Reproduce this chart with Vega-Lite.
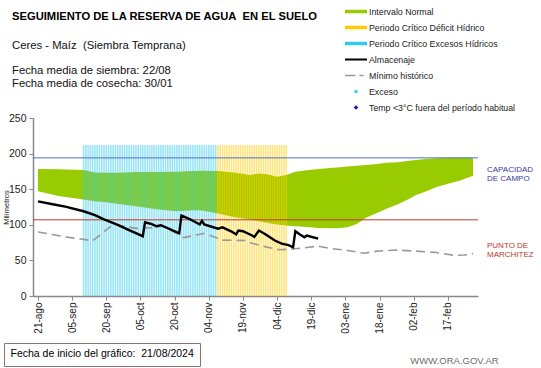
{
  "$schema": "https://vega.github.io/schema/vega-lite/v6.json",
  "autosize": "none",
  "width": 445,
  "height": 178,
  "padding": {"left": 33, "top": 118, "right": 63, "bottom": 72},
  "background": "white",
  "title": {
    "text": "SEGUIMIENTO DE LA RESERVA DE AGUA\u00a0 EN EL SUELO",
    "subtitle": ["Ceres - Maíz\u00a0 (Siembra Temprana)", "\u200b", "Fecha media de siembra: 22/08", "Fecha media de cosecha: 30/01"],
    "anchor": "start",
    "frame": "group",
    "dx": -21,
    "dy": 82,
    "offset": 0,
    "font": "Liberation Sans",
    "fontSize": 11.2,
    "fontWeight": "bold",
    "color": "#000000",
    "subtitleFont": "Liberation Sans",
    "subtitleFontSize": 11.3,
    "subtitleColor": "#111111",
    "subtitleLineHeight": 12.5,
    "subtitlePadding": 18
  },
  "config": {
    "view": {"stroke": null},
    "locale": {
      "time": {
        "dateTime": "%A, %e de %B de %Y, %X",
        "date": "%d/%m/%Y",
        "time": "%H:%M:%S",
        "periods": ["AM", "PM"],
        "days": ["domingo", "lunes", "martes", "miércoles", "jueves", "viernes", "sábado"],
        "shortDays": ["dom", "lun", "mar", "mié", "jue", "vie", "sáb"],
        "months": ["enero", "febrero", "marzo", "abril", "mayo", "junio", "julio", "agosto", "septiembre", "octubre", "noviembre", "diciembre"],
        "shortMonths": ["ene", "feb", "mar", "abr", "may", "jun", "jul", "ago", "sep", "oct", "nov", "dic"]
      }
    }
  },
  "datasets": {
    "series": [
      {"s": "Intervalo Normal"},
      {"s": "Periodo Crítico Déficit Hídrico"},
      {"s": "Periodo Crítico Excesos Hídricos"},
      {"s": "Almacenaje"},
      {"s": "Mínimo histórico"},
      {"s": "Exceso"},
      {"s": "Temp <3°C fuera del período habitual"}
    ],
    "banda": [
      {"d": "2024-08-21", "lo": 147, "hi": 178.5},
      {"d": "2024-08-30", "lo": 140.5, "hi": 178},
      {"d": "2024-09-10", "lo": 135.5, "hi": 177},
      {"d": "2024-09-15", "lo": 133, "hi": 173.5},
      {"d": "2024-09-20", "lo": 131.5, "hi": 173},
      {"d": "2024-09-26", "lo": 129, "hi": 173},
      {"d": "2024-10-03", "lo": 126, "hi": 174},
      {"d": "2024-10-12", "lo": 122, "hi": 174},
      {"d": "2024-10-21", "lo": 119, "hi": 174.5},
      {"d": "2024-10-28", "lo": 120.5, "hi": 175.5},
      {"d": "2024-11-01", "lo": 120, "hi": 176},
      {"d": "2024-11-08", "lo": 116, "hi": 175.5},
      {"d": "2024-11-15", "lo": 111, "hi": 173.5},
      {"d": "2024-11-22", "lo": 107.5, "hi": 170},
      {"d": "2024-11-26", "lo": 105, "hi": 172},
      {"d": "2024-11-30", "lo": 102.5, "hi": 170.5},
      {"d": "2024-12-04", "lo": 100.5, "hi": 167.5},
      {"d": "2024-12-08", "lo": 99, "hi": 170},
      {"d": "2024-12-12", "lo": 98, "hi": 174.5},
      {"d": "2024-12-17", "lo": 97, "hi": 176.5},
      {"d": "2024-12-22", "lo": 95.5, "hi": 178.5},
      {"d": "2024-12-30", "lo": 95, "hi": 180.5},
      {"d": "2025-01-04", "lo": 96.5, "hi": 182},
      {"d": "2025-01-08", "lo": 101, "hi": 183},
      {"d": "2025-01-12", "lo": 110, "hi": 184},
      {"d": "2025-01-17", "lo": 117, "hi": 185.5},
      {"d": "2025-01-21", "lo": 122.5, "hi": 187},
      {"d": "2025-01-26", "lo": 129, "hi": 188},
      {"d": "2025-01-30", "lo": 135, "hi": 189.5},
      {"d": "2025-02-03", "lo": 142, "hi": 191},
      {"d": "2025-02-07", "lo": 146.5, "hi": 192.5},
      {"d": "2025-02-12", "lo": 153, "hi": 193.5},
      {"d": "2025-02-17", "lo": 157.5, "hi": 194},
      {"d": "2025-02-22", "lo": 162, "hi": 194},
      {"d": "2025-02-28", "lo": 169, "hi": 194}
    ],
    "almacenaje": [
      {"d": "2024-08-21", "v": 133},
      {"d": "2024-08-28", "v": 128.5},
      {"d": "2024-09-02", "v": 125.5},
      {"d": "2024-09-10", "v": 119},
      {"d": "2024-09-15", "v": 113.5},
      {"d": "2024-09-19", "v": 107.5},
      {"d": "2024-09-25", "v": 100},
      {"d": "2024-09-30", "v": 92.5},
      {"d": "2024-10-06", "v": 84},
      {"d": "2024-10-07", "v": 103.5},
      {"d": "2024-10-10", "v": 101},
      {"d": "2024-10-12", "v": 98},
      {"d": "2024-10-14", "v": 99.5},
      {"d": "2024-10-22", "v": 88},
      {"d": "2024-10-23", "v": 113},
      {"d": "2024-10-27", "v": 107.5},
      {"d": "2024-10-31", "v": 100.5},
      {"d": "2024-11-01", "v": 105.5},
      {"d": "2024-11-02", "v": 100.5},
      {"d": "2024-11-08", "v": 94.5},
      {"d": "2024-11-10", "v": 96.5},
      {"d": "2024-11-14", "v": 90.5},
      {"d": "2024-11-16", "v": 86.5},
      {"d": "2024-11-17", "v": 92},
      {"d": "2024-11-19", "v": 91},
      {"d": "2024-11-23", "v": 85},
      {"d": "2024-11-24", "v": 83},
      {"d": "2024-11-26", "v": 92},
      {"d": "2024-11-29", "v": 86.5},
      {"d": "2024-12-03", "v": 78},
      {"d": "2024-12-06", "v": 73.5},
      {"d": "2024-12-09", "v": 71.5},
      {"d": "2024-12-11", "v": 68.5},
      {"d": "2024-12-12", "v": 91},
      {"d": "2024-12-14", "v": 86.5},
      {"d": "2024-12-16", "v": 82.5},
      {"d": "2024-12-17", "v": 85},
      {"d": "2024-12-22", "v": 80.5}
    ],
    "minimo": [
      {"d": "2024-08-21", "v": 90},
      {"d": "2024-09-02", "v": 83},
      {"d": "2024-09-10", "v": 79.5},
      {"d": "2024-09-14", "v": 77.5},
      {"d": "2024-09-23", "v": 100.5},
      {"d": "2024-09-28", "v": 98},
      {"d": "2024-10-03", "v": 95},
      {"d": "2024-10-10", "v": 96},
      {"d": "2024-10-15", "v": 98},
      {"d": "2024-10-24", "v": 82},
      {"d": "2024-11-02", "v": 88},
      {"d": "2024-11-10", "v": 78.5},
      {"d": "2024-11-20", "v": 78},
      {"d": "2024-11-22", "v": 75},
      {"d": "2024-11-29", "v": 69},
      {"d": "2024-12-05", "v": 65},
      {"d": "2024-12-11", "v": 66},
      {"d": "2024-12-18", "v": 68.5},
      {"d": "2024-12-22", "v": 70},
      {"d": "2024-12-28", "v": 66.5},
      {"d": "2025-01-04", "v": 64},
      {"d": "2025-01-11", "v": 60},
      {"d": "2025-01-17", "v": 63},
      {"d": "2025-01-25", "v": 64.5},
      {"d": "2025-02-03", "v": 63},
      {"d": "2025-02-12", "v": 61},
      {"d": "2025-02-20", "v": 57},
      {"d": "2025-02-24", "v": 57.5},
      {"d": "2025-02-28", "v": 59.5}
    ],
    "critico": [
      {"d": "2024-09-10", "t": "Periodo Crítico Excesos Hídricos", "v": 212},
      {"d": "2024-09-11", "t": "Periodo Crítico Excesos Hídricos", "v": 212},
      {"d": "2024-09-12", "t": "Periodo Crítico Excesos Hídricos", "v": 212},
      {"d": "2024-09-13", "t": "Periodo Crítico Excesos Hídricos", "v": 212},
      {"d": "2024-09-14", "t": "Periodo Crítico Excesos Hídricos", "v": 212},
      {"d": "2024-09-15", "t": "Periodo Crítico Excesos Hídricos", "v": 212},
      {"d": "2024-09-16", "t": "Periodo Crítico Excesos Hídricos", "v": 212},
      {"d": "2024-09-17", "t": "Periodo Crítico Excesos Hídricos", "v": 212},
      {"d": "2024-09-18", "t": "Periodo Crítico Excesos Hídricos", "v": 212},
      {"d": "2024-09-19", "t": "Periodo Crítico Excesos Hídricos", "v": 212},
      {"d": "2024-09-20", "t": "Periodo Crítico Excesos Hídricos", "v": 212},
      {"d": "2024-09-21", "t": "Periodo Crítico Excesos Hídricos", "v": 212},
      {"d": "2024-09-22", "t": "Periodo Crítico Excesos Hídricos", "v": 212},
      {"d": "2024-09-23", "t": "Periodo Crítico Excesos Hídricos", "v": 212},
      {"d": "2024-09-24", "t": "Periodo Crítico Excesos Hídricos", "v": 212},
      {"d": "2024-09-25", "t": "Periodo Crítico Excesos Hídricos", "v": 212},
      {"d": "2024-09-26", "t": "Periodo Crítico Excesos Hídricos", "v": 212},
      {"d": "2024-09-27", "t": "Periodo Crítico Excesos Hídricos", "v": 212},
      {"d": "2024-09-28", "t": "Periodo Crítico Excesos Hídricos", "v": 212},
      {"d": "2024-09-29", "t": "Periodo Crítico Excesos Hídricos", "v": 212},
      {"d": "2024-09-30", "t": "Periodo Crítico Excesos Hídricos", "v": 212},
      {"d": "2024-10-01", "t": "Periodo Crítico Excesos Hídricos", "v": 212},
      {"d": "2024-10-02", "t": "Periodo Crítico Excesos Hídricos", "v": 212},
      {"d": "2024-10-03", "t": "Periodo Crítico Excesos Hídricos", "v": 212},
      {"d": "2024-10-04", "t": "Periodo Crítico Excesos Hídricos", "v": 212},
      {"d": "2024-10-05", "t": "Periodo Crítico Excesos Hídricos", "v": 212},
      {"d": "2024-10-06", "t": "Periodo Crítico Excesos Hídricos", "v": 212},
      {"d": "2024-10-07", "t": "Periodo Crítico Excesos Hídricos", "v": 212},
      {"d": "2024-10-08", "t": "Periodo Crítico Excesos Hídricos", "v": 212},
      {"d": "2024-10-09", "t": "Periodo Crítico Excesos Hídricos", "v": 212},
      {"d": "2024-10-10", "t": "Periodo Crítico Excesos Hídricos", "v": 212},
      {"d": "2024-10-11", "t": "Periodo Crítico Excesos Hídricos", "v": 212},
      {"d": "2024-10-12", "t": "Periodo Crítico Excesos Hídricos", "v": 212},
      {"d": "2024-10-13", "t": "Periodo Crítico Excesos Hídricos", "v": 212},
      {"d": "2024-10-14", "t": "Periodo Crítico Excesos Hídricos", "v": 212},
      {"d": "2024-10-15", "t": "Periodo Crítico Excesos Hídricos", "v": 212},
      {"d": "2024-10-16", "t": "Periodo Crítico Excesos Hídricos", "v": 212},
      {"d": "2024-10-17", "t": "Periodo Crítico Excesos Hídricos", "v": 212},
      {"d": "2024-10-18", "t": "Periodo Crítico Excesos Hídricos", "v": 212},
      {"d": "2024-10-19", "t": "Periodo Crítico Excesos Hídricos", "v": 212},
      {"d": "2024-10-20", "t": "Periodo Crítico Excesos Hídricos", "v": 212},
      {"d": "2024-10-21", "t": "Periodo Crítico Excesos Hídricos", "v": 212},
      {"d": "2024-10-22", "t": "Periodo Crítico Excesos Hídricos", "v": 212},
      {"d": "2024-10-23", "t": "Periodo Crítico Excesos Hídricos", "v": 212},
      {"d": "2024-10-24", "t": "Periodo Crítico Excesos Hídricos", "v": 212},
      {"d": "2024-10-25", "t": "Periodo Crítico Excesos Hídricos", "v": 212},
      {"d": "2024-10-26", "t": "Periodo Crítico Excesos Hídricos", "v": 212},
      {"d": "2024-10-27", "t": "Periodo Crítico Excesos Hídricos", "v": 212},
      {"d": "2024-10-28", "t": "Periodo Crítico Excesos Hídricos", "v": 212},
      {"d": "2024-10-29", "t": "Periodo Crítico Excesos Hídricos", "v": 212},
      {"d": "2024-10-30", "t": "Periodo Crítico Excesos Hídricos", "v": 212},
      {"d": "2024-10-31", "t": "Periodo Crítico Excesos Hídricos", "v": 212},
      {"d": "2024-11-01", "t": "Periodo Crítico Excesos Hídricos", "v": 212},
      {"d": "2024-11-02", "t": "Periodo Crítico Excesos Hídricos", "v": 212},
      {"d": "2024-11-03", "t": "Periodo Crítico Excesos Hídricos", "v": 212},
      {"d": "2024-11-04", "t": "Periodo Crítico Excesos Hídricos", "v": 212},
      {"d": "2024-11-05", "t": "Periodo Crítico Excesos Hídricos", "v": 212},
      {"d": "2024-11-06", "t": "Periodo Crítico Excesos Hídricos", "v": 212},
      {"d": "2024-11-07", "t": "Periodo Crítico Excesos Hídricos", "v": 212},
      {"d": "2024-11-08", "t": "Periodo Crítico Déficit Hídrico", "v": 212},
      {"d": "2024-11-09", "t": "Periodo Crítico Déficit Hídrico", "v": 212},
      {"d": "2024-11-10", "t": "Periodo Crítico Déficit Hídrico", "v": 212},
      {"d": "2024-11-11", "t": "Periodo Crítico Déficit Hídrico", "v": 212},
      {"d": "2024-11-12", "t": "Periodo Crítico Déficit Hídrico", "v": 212},
      {"d": "2024-11-13", "t": "Periodo Crítico Déficit Hídrico", "v": 212},
      {"d": "2024-11-14", "t": "Periodo Crítico Déficit Hídrico", "v": 212},
      {"d": "2024-11-15", "t": "Periodo Crítico Déficit Hídrico", "v": 212},
      {"d": "2024-11-16", "t": "Periodo Crítico Déficit Hídrico", "v": 212},
      {"d": "2024-11-17", "t": "Periodo Crítico Déficit Hídrico", "v": 212},
      {"d": "2024-11-18", "t": "Periodo Crítico Déficit Hídrico", "v": 212},
      {"d": "2024-11-19", "t": "Periodo Crítico Déficit Hídrico", "v": 212},
      {"d": "2024-11-20", "t": "Periodo Crítico Déficit Hídrico", "v": 212},
      {"d": "2024-11-21", "t": "Periodo Crítico Déficit Hídrico", "v": 212},
      {"d": "2024-11-22", "t": "Periodo Crítico Déficit Hídrico", "v": 212},
      {"d": "2024-11-23", "t": "Periodo Crítico Déficit Hídrico", "v": 212},
      {"d": "2024-11-24", "t": "Periodo Crítico Déficit Hídrico", "v": 212},
      {"d": "2024-11-25", "t": "Periodo Crítico Déficit Hídrico", "v": 212},
      {"d": "2024-11-26", "t": "Periodo Crítico Déficit Hídrico", "v": 212},
      {"d": "2024-11-27", "t": "Periodo Crítico Déficit Hídrico", "v": 212},
      {"d": "2024-11-28", "t": "Periodo Crítico Déficit Hídrico", "v": 212},
      {"d": "2024-11-29", "t": "Periodo Crítico Déficit Hídrico", "v": 212},
      {"d": "2024-11-30", "t": "Periodo Crítico Déficit Hídrico", "v": 212},
      {"d": "2024-12-01", "t": "Periodo Crítico Déficit Hídrico", "v": 212},
      {"d": "2024-12-02", "t": "Periodo Crítico Déficit Hídrico", "v": 212},
      {"d": "2024-12-03", "t": "Periodo Crítico Déficit Hídrico", "v": 212},
      {"d": "2024-12-04", "t": "Periodo Crítico Déficit Hídrico", "v": 212},
      {"d": "2024-12-05", "t": "Periodo Crítico Déficit Hídrico", "v": 212},
      {"d": "2024-12-06", "t": "Periodo Crítico Déficit Hídrico", "v": 212},
      {"d": "2024-12-07", "t": "Periodo Crítico Déficit Hídrico", "v": 212},
      {"d": "2024-12-08", "t": "Periodo Crítico Déficit Hídrico", "v": 212}
    ]
  },
  "layer": [
    {
      "data": {"name": "series"},
      "mark": {"type": "point", "opacity": 0, "filled": true},
      "encoding": {
        "color": {
          "field": "s", "type": "nominal",
          "scale": {
            "domain": ["Intervalo Normal", "Periodo Crítico Déficit Hídrico", "Periodo Crítico Excesos Hídricos", "Almacenaje", "Mínimo histórico", "Exceso", "Temp <3°C fuera del período habitual"],
            "range": ["#99CC00", "#FFCC00", "#33CCEE", "#000000", "#999999", "#33CCFF", "#1F1FA0"]
          },
          "legend": {
            "title": null, "orient": "none", "legendX": 312, "legendY": -111,
            "symbolOpacity": 1, "symbolStrokeWidth": 0, "clipHeight": 9, "rowPadding": 6, "labelOffset": 2,
            "labelFont": "Liberation Sans", "labelFontSize": 8.8, "labelColor": "#222222", "labelLimit": 300
          }
        },
        "shape": {
          "field": "s", "type": "nominal",
          "scale": {
            "domain": ["Intervalo Normal", "Periodo Crítico Déficit Hídrico", "Periodo Crítico Excesos Hídricos", "Almacenaje", "Mínimo histórico", "Exceso", "Temp <3°C fuera del período habitual"],
            "range": ["M-1,-0.16H1V0.16H-1Z", "M-1,-0.16H1V0.16H-1Z", "M-1,-0.16H1V0.16H-1Z", "M-1,-0.09H1V0.09H-1Z", "M-1,-0.07H-0.05V0.07H-1Z M0.3,-0.07H0.7V0.07H0.3Z", "square", "diamond"]
          },
          "legend": {
            "title": null, "orient": "none", "legendX": 312, "legendY": -111,
            "symbolOpacity": 1, "symbolStrokeWidth": 0, "clipHeight": 9, "rowPadding": 6, "labelOffset": 2,
            "labelFont": "Liberation Sans", "labelFontSize": 8.8, "labelColor": "#222222", "labelLimit": 300
          }
        },
        "size": {
          "field": "s", "type": "nominal",
          "scale": {
            "type": "ordinal",
            "domain": ["Intervalo Normal", "Periodo Crítico Déficit Hídrico", "Periodo Crítico Excesos Hídricos", "Almacenaje", "Mínimo histórico", "Exceso", "Temp <3°C fuera del período habitual"],
            "range": [484, 484, 484, 484, 484, 9, 22]
          },
          "legend": {
            "title": null, "orient": "none", "legendX": 312, "legendY": -111,
            "symbolOpacity": 1, "symbolStrokeWidth": 0, "clipHeight": 9, "rowPadding": 6, "labelOffset": 2,
            "labelFont": "Liberation Sans", "labelFontSize": 8.8, "labelColor": "#222222", "labelLimit": 300
          }
        }
      }
    },
    {
      "data": {"name": "banda"},
      "mark": {"type": "area", "opacity": 1},
      "encoding": {
        "x": {
          "field": "d", "type": "temporal",
          "scale": {"type": "utc", "domain": [{"year": 2024, "month": 8, "date": 21, "utc": true}, {"year": 2025, "month": 2, "date": 28, "utc": true}]},
          "axis": {
            "values": [
              {"year": 2024, "month": 8, "date": 21, "utc": true},
              {"year": 2024, "month": 9, "date": 5, "utc": true},
              {"year": 2024, "month": 9, "date": 20, "utc": true},
              {"year": 2024, "month": 10, "date": 5, "utc": true},
              {"year": 2024, "month": 10, "date": 20, "utc": true},
              {"year": 2024, "month": 11, "date": 4, "utc": true},
              {"year": 2024, "month": 11, "date": 19, "utc": true},
              {"year": 2024, "month": 12, "date": 4, "utc": true},
              {"year": 2024, "month": 12, "date": 19, "utc": true},
              {"year": 2025, "month": 1, "date": 3, "utc": true},
              {"year": 2025, "month": 1, "date": 18, "utc": true},
              {"year": 2025, "month": 2, "date": 2, "utc": true},
              {"year": 2025, "month": 2, "date": 17, "utc": true}
            ],
            "tickCount": 40,
            "format": "%d-%b",
            "labelAngle": -90,
            "labelAlign": "right",
            "labelBaseline": "middle",
            "labelFont": "Liberation Sans",
            "labelFontSize": 10,
            "labelColor": "#222222",
            "labelPadding": 2,
            "labelOverlap": false,
            "labelBound": false,
            "tickSize": 4,
            "tickColor": "#888888",
            "domainColor": "#888888",
            "domainWidth": 1.5,
            "grid": false,
            "title": "WWW.ORA.GOV.AR",
            "titleX": 421,
            "titleY": 64,
            "titleAlign": "center",
            "titleBaseline": "middle",
            "titleFont": "Liberation Sans",
            "titleFontSize": 9.5,
            "titleFontWeight": "normal",
            "titleColor": "#6d6d6d"
          }
        },
        "y": {
          "field": "hi", "type": "quantitative",
          "scale": {"domain": [0, 250], "nice": false},
          "axis": {
            "values": [0, 50, 100, 150, 200, 250],
            "tickCount": 20,
            "labelFont": "Liberation Sans",
            "labelFontSize": 10.5,
            "labelColor": "#222222",
            "labelPadding": 3,
            "labelOverlap": false,
            "tickSize": 4,
            "tickColor": "#888888",
            "domainColor": "#888888",
            "domainWidth": 1.5,
            "grid": false,
            "title": "Milímetros",
            "titleFont": "Liberation Sans",
            "titleFontSize": 7.5,
            "titleFontWeight": "normal",
            "titleColor": "#222222",
            "titleAngle": -90,
            "titleX": -27,
            "titleY": 89,
            "titleAlign": "center",
            "titleBaseline": "middle"
          }
        },
        "y2": {"field": "lo"},
        "color": {"datum": "Intervalo Normal", "type": "nominal", "legend": null}
      }
    },
    {
      "data": {"name": "critico"},
      "mark": {"type": "bar", "width": 1.6, "opacity": 0.5},
      "encoding": {
        "x": {"field": "d", "type": "temporal"},
        "y": {"field": "v", "type": "quantitative"},
        "color": {"field": "t", "type": "nominal", "legend": null}
      }
    },
    {
      "data": {"values": [{"v": 194, "label": "CAPACIDAD\nDE  CAMPO"}]},
      "layer": [
        {"mark": {"type": "rule", "color": "#4F6FC6", "strokeWidth": 1}, "encoding": {"y": {"field": "v", "type": "quantitative"}}},
        {
          "mark": {"type": "text", "align": "left", "baseline": "top", "dx": 14, "dy": 8, "lineBreak": "\n", "lineHeight": 9.5, "font": "Liberation Sans", "fontSize": 8, "color": "#3B3BA8"},
          "encoding": {
            "x": {"datum": {"year": 2025, "month": 2, "date": 28, "utc": true}, "type": "temporal"},
            "y": {"field": "v", "type": "quantitative"},
            "text": {"field": "label"}
          }
        }
      ]
    },
    {
      "data": {"values": [{"v": 107, "label": "PUNTO  DE\nMARCHITEZ"}]},
      "layer": [
        {"mark": {"type": "rule", "color": "#C0392B", "strokeWidth": 1}, "encoding": {"y": {"field": "v", "type": "quantitative"}}},
        {
          "mark": {"type": "text", "align": "left", "baseline": "top", "dx": 14, "dy": 22, "lineBreak": "\n", "lineHeight": 9.5, "font": "Liberation Sans", "fontSize": 8, "color": "#C0392B"},
          "encoding": {
            "x": {"datum": {"year": 2025, "month": 2, "date": 28, "utc": true}, "type": "temporal"},
            "y": {"field": "v", "type": "quantitative"},
            "text": {"field": "label"}
          }
        }
      ]
    },
    {
      "data": {"name": "minimo"},
      "mark": {"type": "line", "strokeWidth": 1.6, "strokeDash": [9, 5]},
      "encoding": {
        "x": {"field": "d", "type": "temporal"},
        "y": {"field": "v", "type": "quantitative"},
        "color": {"datum": "Mínimo histórico", "type": "nominal", "legend": null}
      }
    },
    {
      "data": {"name": "almacenaje"},
      "mark": {"type": "line", "strokeWidth": 2.4},
      "encoding": {
        "x": {"field": "d", "type": "temporal"},
        "y": {"field": "v", "type": "quantitative"},
        "color": {"datum": "Almacenaje", "type": "nominal", "legend": null}
      }
    },
    {
      "data": {"values": [{"inicio": "Fecha de inicio del gráfico:\u00a0 21/08/2024"}]},
      "mark": {"type": "point", "opacity": 0},
      "encoding": {
        "fill": {
          "field": "inicio", "type": "nominal",
          "legend": {
            "title": null,
            "orient": "none",
            "legendX": -29,
            "legendY": 225,
            "symbolSize": 0.01,
            "symbolStrokeWidth": 0,
            "symbolOpacity": 0,
            "labelOffset": -10,
            "labelFont": "Liberation Sans",
            "labelFontSize": 10.5,
            "labelColor": "#000000",
            "labelLimit": 400,
            "strokeColor": "#8C7373",
            "padding": 6
          }
        }
      }
    }
  ]
}
